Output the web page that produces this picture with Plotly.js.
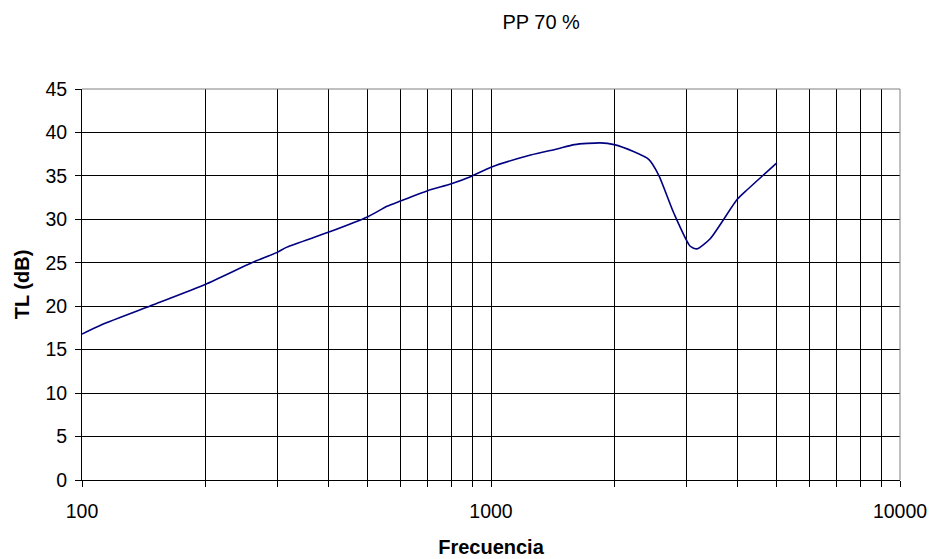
<!DOCTYPE html>
<html>
<head>
<meta charset="utf-8">
<script src="https://cdn.plot.ly/plotly-3.0.1.min.js"></script>
<style>html,body{margin:0;padding:0;background:#fff}#chart{width:933px;height:559px}</style>
</head>
<body>
<div id="chart"></div>
<script>
const chartTitle = "PP 70 %";
const xTitle = "Frecuencia";
const yTitle = "TL (dB)";
const frequency = [100, 112, 150, 200, 260, 300, 317, 400, 500, 557, 600, 700, 800, 900, 1000, 1250, 1450, 1600, 1850, 2000, 2230, 2430, 2570, 2800, 3070, 3190, 3440, 4000, 4230, 5000];
const tlValues = [16.8, 17.9, 20.2, 22.5, 25.0, 26.2, 26.8, 28.5, 30.3, 31.5, 32.1, 33.3, 34.1, 35.0, 36.0, 37.4, 38.1, 38.6, 38.8, 38.6, 37.8, 36.9, 35.1, 30.7, 26.9, 26.6, 27.8, 32.3, 33.4, 36.5];
const xTickVals = [100, 200, 300, 400, 500, 600, 700, 800, 900, 1000, 2000, 3000, 4000, 5000, 6000, 7000, 8000, 9000, 10000];
const xTickText = ["100", "", "", "", "", "", "", "", "", "1000", "", "", "", "", "", "", "", "", "10000"];
const yTickVals = [0, 5, 10, 15, 20, 25, 30, 35, 40, 45];

const trace = {
  x: frequency,
  y: tlValues,
  type: 'scatter',
  mode: 'lines',
  line: {color: '#000080', width: 1.6, shape: 'spline', smoothing: 0.6},
  hoverinfo: 'x+y'
};

const font = {family: 'Liberation Sans, Arial, sans-serif', color: '#000'};

const layout = {
  width: 933,
  height: 559,
  margin: {l: 82, r: 33, t: 89, b: 79},
  paper_bgcolor: '#fff',
  plot_bgcolor: '#fff',
  showlegend: false,
  font: Object.assign({size: 19.5}, font),
  title: {
    text: chartTitle,
    font: Object.assign({size: 20}, font),
    x: 0.58, xanchor: 'center', xref: 'container',
    y: 1 - 22/559, yanchor: 'middle', yref: 'container'
  },
  xaxis: {
    type: 'log',
    range: [2, 4],
    tickvals: xTickVals,
    ticktext: xTickText,
    ticks: 'outside',
    ticklen: 6,
    tickcolor: '#000',
    tickwidth: 1,
    ticklabelstandoff: 8,
    showgrid: true,
    gridcolor: '#000',
    gridwidth: 1,
    showline: true,
    linecolor: '#000',
    linewidth: 1,
    zeroline: false,
    tickfont: Object.assign({size: 19.5}, font),
    title: {text: '<b>' + xTitle + '</b>', font: Object.assign({size: 20}, font), standoff: 18}
  },
  yaxis: {
    range: [0, 45],
    tickvals: yTickVals,
    ticks: 'outside',
    ticklen: 6,
    tickcolor: '#000',
    tickwidth: 1,
    ticklabelstandoff: 4,
    showgrid: true,
    gridcolor: '#000',
    gridwidth: 1,
    showline: true,
    linecolor: '#000',
    linewidth: 1,
    zeroline: false,
    tickfont: Object.assign({size: 19.5}, font),
    title: {text: '<b>' + yTitle + '</b>', font: Object.assign({size: 20}, font), standoff: 10}
  },
  shapes: [
    {type: 'line', xref: 'paper', yref: 'paper', x0: 0, x1: 1, y0: 1, y1: 1, line: {color: '#808080', width: 1}, layer: 'above'},
    {type: 'line', xref: 'paper', yref: 'paper', x0: 1, x1: 1, y0: 0, y1: 1, line: {color: '#808080', width: 1}, layer: 'above'}
  ]
};

Plotly.newPlot('chart', [trace], layout, {displayModeBar: false, staticPlot: false});
</script>
</body>
</html>
